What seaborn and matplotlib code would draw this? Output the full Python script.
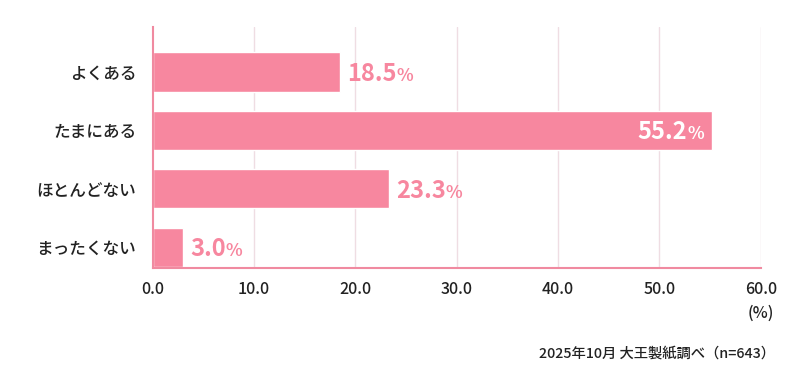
import matplotlib
matplotlib.use('Agg')
import matplotlib.pyplot as plt
import seaborn as sns

categories = ['よくある', 'たまにある', 'ほとんどない', 'まったくない']
values = [18.5, 55.2, 23.3, 3.0]
xticks = [0, 10, 20, 30, 40, 50, 60]
note = '2025年10月 大王製紙調べ（n=643）'

pink = '#F7879F'
line_pink = '#F08AA0'
grid_pink = '#EFDDE3'
text_dark = '#222222'

sns.set_style('white')
plt.rcParams['font.family'] = ['Noto Sans CJK JP', 'DejaVu Sans']

fig = plt.figure(figsize=(8, 3.75), dpi=100)
ax = fig.add_axes([0.191, 0.285, 0.760, 0.643])

sns.barplot(x=values, y=categories, color=pink, saturation=1, width=0.67,
            orient='h', ax=ax, zorder=2)

ax.set_xlim(0, 60)
ax.set_ylim(3.36, -0.77)
ax.set_xticks(xticks)
ax.set_xticklabels([f'{t:.1f}' for t in xticks], fontweight='medium')
ax.set_yticks(range(len(categories)))
ax.set_yticklabels(categories, fontweight='medium')
ax.set_xlabel('')
ax.set_ylabel('')
ax.tick_params(axis='x', length=0, pad=9, labelsize=11.5, labelcolor=text_dark)
ax.tick_params(axis='y', length=0, pad=12, labelsize=12, labelcolor=text_dark)

for x in xticks[1:]:
    ax.axvline(x, color=grid_pink, lw=1, zorder=0)

for s in ['top', 'right']:
    ax.spines[s].set_visible(False)
for s in ['left', 'bottom']:
    ax.spines[s].set_color(line_pink)
    ax.spines[s].set_linewidth(1.5)
    ax.spines[s].set_zorder(3)

for i, v in enumerate(values):
    if v > 50:
        pct = ax.annotate('%', xy=(v, i), xytext=(-6, -6.5), textcoords='offset points',
                          ha='right', va='baseline', fontsize=12.5, fontweight='bold',
                          color='white', zorder=4)
        ax.annotate(f'{v:.1f}', xy=(0, i), xycoords=(pct, 'data'), xytext=(0, -6.5),
                    textcoords='offset points', ha='right', va='baseline',
                    fontsize=17, fontweight='bold', color='white', zorder=4)
    else:
        num = ax.annotate(f'{v:.1f}', xy=(v, i), xytext=(5, -6.5), textcoords='offset points',
                          ha='left', va='baseline', fontsize=17, fontweight='bold',
                          color=pink, zorder=4)
        ax.annotate('%', xy=(1, i), xycoords=(num, 'data'), xytext=(0, -6.5),
                    textcoords='offset points', ha='left', va='baseline',
                    fontsize=12.5, fontweight='bold', color=pink, zorder=4)

fig.text(761 / 800, 1 - 313 / 375, '(%)', ha='center', va='center', fontsize=11.5,
         fontweight='medium', color=text_dark)
fig.text(775 / 800, 1 - 354 / 375, note, ha='right', va='center', fontsize=10.3,
         fontweight='medium', color=text_dark)

fig.savefig('out.png', dpi=100)
